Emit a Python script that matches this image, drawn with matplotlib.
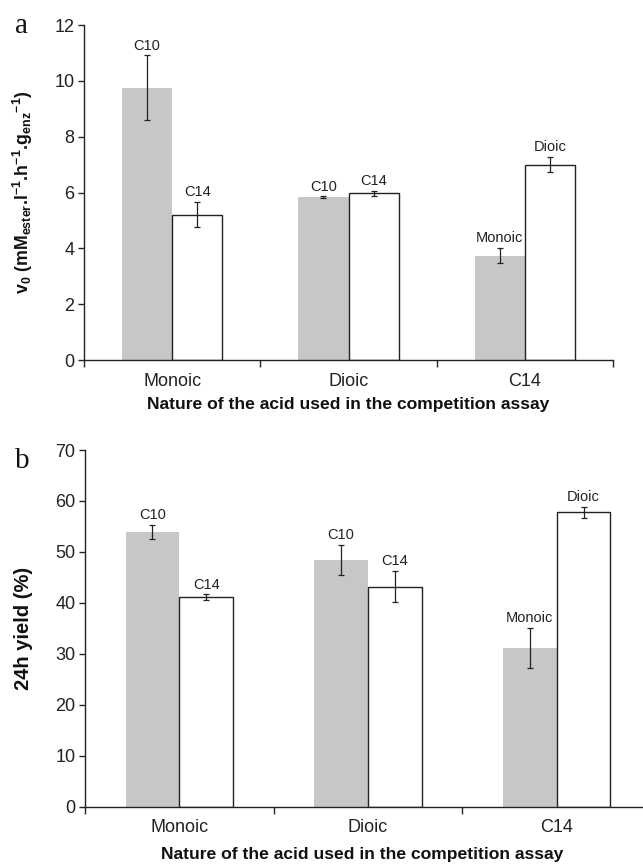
import matplotlib
matplotlib.use('Agg')
import matplotlib.pyplot as plt
import numpy as np

plt.rcParams['font.family'] = ['Liberation Sans', 'DejaVu Sans']
plt.rcParams['mathtext.default'] = 'regular'

groups = ['Monoic', 'Dioic', 'C14']
# panel a: initial rate v0
a_gray = [9.76, 5.83, 3.74]
a_gray_err = [1.15, 0.03, 0.28]
a_white = [5.21, 5.97, 7.00]
a_white_err = [0.46, 0.09, 0.27]
a_gray_lab = ['C10', 'C10', 'Monoic']
a_white_lab = ['C14', 'C14', 'Dioic']
# panel b: 24h yield
b_gray = [53.9, 48.4, 31.1]
b_gray_err = [1.4, 3.0, 3.95]
b_white = [41.1, 43.2, 57.8]
b_white_err = [0.55, 3.1, 1.1]
b_gray_lab = ['C10', 'C10', 'Monoic']
b_white_lab = ['C14', 'C14', 'Dioic']

gray = '#c6c7c9'
w = 0.285
xlab = 'Nature of the acid used in the competition assay'

fig = plt.figure(figsize=(6.43, 8.64), dpi=100)
axa = fig.add_axes([84/643, 1-360/864, 529/643, 335/864])
axb = fig.add_axes([85/643, 1-806.7/864, 566/643, 356.7/864])


def panel(ax, g, ge, wh, we, gl, wl, ymax, ystep, ylabel, ysize):
    x = np.arange(len(groups)) + 0.5
    ax.bar(x - w/2, g, w, color=gray, edgecolor='none', zorder=2)
    ax.bar(x + w/2, wh, w, color='white', edgecolor='#222222', linewidth=1.0, zorder=2)
    ax.errorbar(x - w/2, g, yerr=ge, fmt='none', ecolor='#222222', elinewidth=0.9,
                capsize=2, capthick=0.9, zorder=3)
    ax.errorbar(x + w/2, wh, yerr=we, fmt='none', ecolor='#222222', elinewidth=0.9,
                capsize=2, capthick=0.9, zorder=3)
    for xi, v, e, t in zip(x - w/2, g, ge, gl):
        ax.annotate(t, (xi, v + e), xytext=(0, 2), textcoords='offset points',
                    ha='center', va='bottom', fontsize=10.5, color='#222222')
    for xi, v, e, t in zip(x + w/2, wh, we, wl):
        ax.annotate(t, (xi, v + e), xytext=(0, 2), textcoords='offset points',
                    ha='center', va='bottom', fontsize=10.5, color='#222222')
    ax.set_xlim(0, 3)
    ax.set_ylim(0, ymax)
    ax.set_yticks(np.arange(0, ymax + 0.1, ystep))
    ax.set_xticks([0, 1, 2, 3])
    ax.set_xticklabels([])
    ax.set_xticks(x, minor=True)
    ax.set_xticklabels(groups, minor=True)
    ax.tick_params(axis='x', which='minor', length=0, pad=9, labelsize=13, colors='#222222')
    ax.tick_params(axis='x', which='major', length=5, width=1, color='#222222')
    ax.tick_params(axis='y', length=4, width=1, pad=3, labelsize=13, colors='#222222')
    for s in ['top', 'right']:
        ax.spines[s].set_visible(False)
    for s in ['left', 'bottom']:
        ax.spines[s].set_color('#222222')
        ax.spines[s].set_linewidth(1.0)
    ax.set_xlabel(xlab, fontsize=12.6, fontweight='bold', color='#111111', va='center')
    ax.set_ylabel(ylabel, fontsize=ysize, fontweight='bold', color='#111111', va='center')


panel(axa, a_gray, a_gray_err, a_white, a_white_err, a_gray_lab, a_white_lab, 12, 2,
      r'v$_0$ (mM$_{ester}$.l$^{-1}$.h$^{-1}$.g$_{enz}$$^{-1}$)', 12.8)
panel(axb, b_gray, b_gray_err, b_white, b_white_err, b_gray_lab, b_white_lab, 70, 10,
      '24h yield (%)', 14.5)
axa.xaxis.set_label_coords(0.5, -0.134)
axb.xaxis.set_label_coords(0.49, -0.135)
axa.yaxis.set_label_coords(-0.1153, 0.5)
axb.yaxis.set_label_coords(-0.1095, 0.5)

fig.text(21/643, 1-33/864, 'a', family=['Liberation Serif', 'DejaVu Serif'],
         fontsize=21, ha='center', va='baseline', color='#111111')
fig.text(22/643, 1-468/864, 'b', family=['Liberation Serif', 'DejaVu Serif'],
         fontsize=21, ha='center', va='baseline', color='#111111')

fig.savefig('out.png', dpi=100)
